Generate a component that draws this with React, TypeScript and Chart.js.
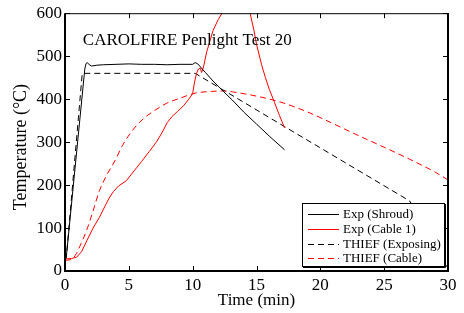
import React, { useEffect, useRef } from 'react';
import { Chart, registerables } from 'chart.js';

Chart.register(...registerables);

// ---- data (minutes, °C) ----
const shroudTime = [0, 0.1, 1.55, 1.65, 1.75, 1.9, 2.1, 2.5, 3, 4, 5, 6, 7, 8, 9, 10, 10.2, 10.4, 11.0, 11.6, 12.4, 13.1, 14.0, 15.0, 16.0, 17.2];
const shroudTemp = [30, 32, 470, 483, 485, 480, 477, 479, 480, 481, 482, 481, 481, 480, 481, 481, 485, 482, 462, 442, 418, 398, 370, 342, 314, 282];

const cableTime = [0, 0.5, 0.9, 1.3, 1.7, 2.2, 2.7, 3.2, 3.5, 3.8, 4.2, 4.8, 5.2, 5.6, 6.0, 6.6, 7.2, 7.6, 8.0, 8.4, 8.8, 9.3, 9.7, 10.0, 10.15, 10.3, 10.45, 10.6, 10.7, 10.85, 11.1, 11.6, 12.0, 12.3, 12.8, 13.5, 14.0, 14.5, 14.8, 15.0, 15.4, 15.7, 16.0, 16.4, 16.8, 17.2];
const cableTemp = [28, 29, 32, 45, 70, 100, 125, 155, 172, 185, 198, 210, 225, 240, 255, 278, 302, 322, 345, 360, 371, 385, 400, 413, 440, 460, 470, 472, 462, 475, 510, 560, 585, 600, 630, 650, 640, 600, 560, 528, 480, 450, 423, 393, 362, 333];

const exposingTime = [0, 0.1, 1.35, 10.2, 17.2, 27.0, 30.0];
const exposingTemp = [25, 30, 460, 460, 336, 163, 5];

const thiefCableTime = [0, 0.5, 0.9, 1.2, 1.7, 2.2, 2.7, 3.3, 3.9, 4.5, 5.3, 6.2, 7.2, 8.0, 9.0, 10.2, 11.5, 12.5, 13.1, 15.0, 17.0, 19.0, 21.0, 23.0, 25.0, 27.0, 29.0, 30.0];
const thiefCableTemp = [25, 27, 41, 60, 95, 140, 187, 225, 256, 292, 328, 356, 377, 391, 402, 414, 418, 419, 417, 407, 392, 370, 343, 315, 288, 260, 230, 212];

const seriesLabels = ['Exp (Shroud)', 'Exp (Cable 1)', 'THIEF (Exposing)', 'THIEF (Cable)'];
const seriesColors = ['#000000', '#ff0000', '#000000', '#ff0000'];
const seriesDashed = [false, false, true, true];

const xTicks = [0, 5, 10, 15, 20, 25, 30];
const yTicks = [0, 100, 200, 300, 400, 500, 600];
const xLabel = 'Time (min)';
const yLabel = 'Temperature (°C)';
const annotation = 'CAROLFIRE Penlight Test 20';
const annotationAt = { x: 1.4, y: 525 };

const FONT = '"Liberation Serif", "Times New Roman", serif';

function pts(t: number[], v: number[]) {
  return t.map((x, i) => ({ x, y: v[i] }));
}

const overlayPlugin = {
  id: 'overlay',
  afterDatasetsDraw(chart: any) {
    const { ctx, chartArea: a, scales } = chart;
    const xs = scales.x;
    const ys = scales.y;
    ctx.save();
    ctx.strokeStyle = '#000';
    ctx.lineWidth = 1;
    const tl = 5;
    ctx.beginPath();
    xTicks.forEach((v) => {
      const px = Math.round(xs.getPixelForValue(v)) + 0.5;
      ctx.moveTo(px, a.bottom);
      ctx.lineTo(px, a.bottom - tl);
      ctx.moveTo(px, a.top);
      ctx.lineTo(px, a.top + tl);
    });
    yTicks.forEach((v) => {
      const py = Math.round(ys.getPixelForValue(v)) + 0.5;
      ctx.moveTo(a.left, py);
      ctx.lineTo(a.left + tl, py);
      ctx.moveTo(a.right, py);
      ctx.lineTo(a.right - tl, py);
    });
    ctx.stroke();
    // frame
    ctx.lineWidth = 2;
    ctx.beginPath();
    ctx.moveTo(a.left, a.top);
    ctx.lineTo(a.left, a.bottom);
    ctx.lineTo(a.right, a.bottom);
    ctx.lineTo(a.right, a.top);
    ctx.stroke();
    ctx.lineWidth = 1;
    ctx.beginPath();
    ctx.moveTo(a.left, a.top + 0.5);
    ctx.lineTo(a.right, a.top + 0.5);
    ctx.stroke();

    // annotation text
    ctx.fillStyle = '#000';
    ctx.font = '17px ' + FONT;
    ctx.textAlign = 'left';
    ctx.textBaseline = 'alphabetic';
    ctx.fillText(annotation, xs.getPixelForValue(annotationAt.x), ys.getPixelForValue(annotationAt.y));

    // y axis title
    ctx.save();
    ctx.font = '18px ' + FONT;
    ctx.textAlign = 'center';
    ctx.textBaseline = 'alphabetic';
    ctx.translate(a.left - 39, (a.top + a.bottom) / 2 + 5);
    ctx.rotate(-Math.PI / 2);
    ctx.fillText(yLabel, 0, 0);
    ctx.restore();

    // legend
    const lw = 142;
    const lh = 63;
    const lx = a.right - 4 - lw;
    const ly = a.bottom - 5 - lh;
    ctx.fillStyle = '#fff';
    ctx.fillRect(lx, ly, lw, lh);
    ctx.strokeStyle = '#000';
    ctx.lineWidth = 1;
    ctx.strokeRect(lx + 0.5, ly + 0.5, lw, lh);
    ctx.beginPath();
    ctx.moveTo(lx + lw + 1.5, ly + 1);
    ctx.lineTo(lx + lw + 1.5, ly + lh + 1.5);
    ctx.lineTo(lx + 1, ly + lh + 1.5);
    ctx.stroke();
    ctx.font = '13px ' + FONT;
    ctx.textBaseline = 'middle';
    seriesLabels.forEach((lab, i) => {
      const cy = Math.round(ly + 11 + i * 14.8) + 0.5;
      ctx.strokeStyle = seriesColors[i];
      ctx.setLineDash(seriesDashed[i] ? [6, 4] : []);
      ctx.beginPath();
      ctx.moveTo(lx + 6, cy);
      ctx.lineTo(lx + 37, cy);
      ctx.stroke();
      ctx.setLineDash([]);
      ctx.fillStyle = '#000';
      ctx.fillText(lab, lx + 41, cy);
    });
    ctx.restore();
  },
};

export default function App() {
  const ref = useRef<HTMLCanvasElement | null>(null);
  useEffect(() => {
    if (!ref.current) return;
    const times = [shroudTime, cableTime, exposingTime, thiefCableTime];
    const temps = [shroudTemp, cableTemp, exposingTemp, thiefCableTemp];
    const chart = new Chart(ref.current, {
      type: 'line',
      data: {
        datasets: seriesLabels.map((label, i) => ({
          label,
          data: pts(times[i], temps[i]),
          borderColor: seriesColors[i],
          backgroundColor: seriesColors[i],
          borderWidth: 1,
          borderDash: seriesDashed[i] ? [6, 4] : [],
          pointRadius: 0,
          fill: false,
          tension: 0,
          cubicInterpolationMode: i === 3 ? 'monotone' : 'default',
        })),
      },
      options: {
        responsive: false,
        animation: false,
        events: [],
        layout: { padding: { top: 11, right: 16, left: 0, bottom: 0 } },
        plugins: { legend: { display: false }, tooltip: { enabled: false } },
        scales: {
          x: {
            type: 'linear',
            min: 0,
            max: 30,
            afterBuildTicks: (s: any) => { s.ticks = xTicks.map((v) => ({ value: v })); },
            afterFit: (s: any) => { s.height = 42; },
            grid: { display: false, drawTicks: false },
            border: { display: false },
            ticks: { color: '#000', font: { family: FONT, size: 17 }, padding: 4, maxRotation: 0 },
            title: { display: true, text: xLabel, color: '#000', font: { family: FONT, size: 17 }, padding: { top: 0, bottom: 2 } },
          },
          y: {
            type: 'linear',
            min: 0,
            max: 600,
            afterBuildTicks: (s: any) => { s.ticks = yTicks.map((v) => ({ value: v })); },
            afterFit: (s: any) => { s.width = 65; },
            grid: { display: false, drawTicks: false },
            border: { display: false },
            ticks: { color: '#000', font: { family: FONT, size: 17 }, padding: 3 },
            title: { display: false },
          },
        },
      },
      plugins: [overlayPlugin],
    });
    return () => chart.destroy();
  }, []);
  return (
    <div style={{ position: 'absolute', left: 0, top: 0, width: 464, height: 313, background: '#fff' }}>
      <canvas ref={ref} width={464} height={313} style={{ display: 'block', width: 464, height: 313 }} />
    </div>
  );
}
